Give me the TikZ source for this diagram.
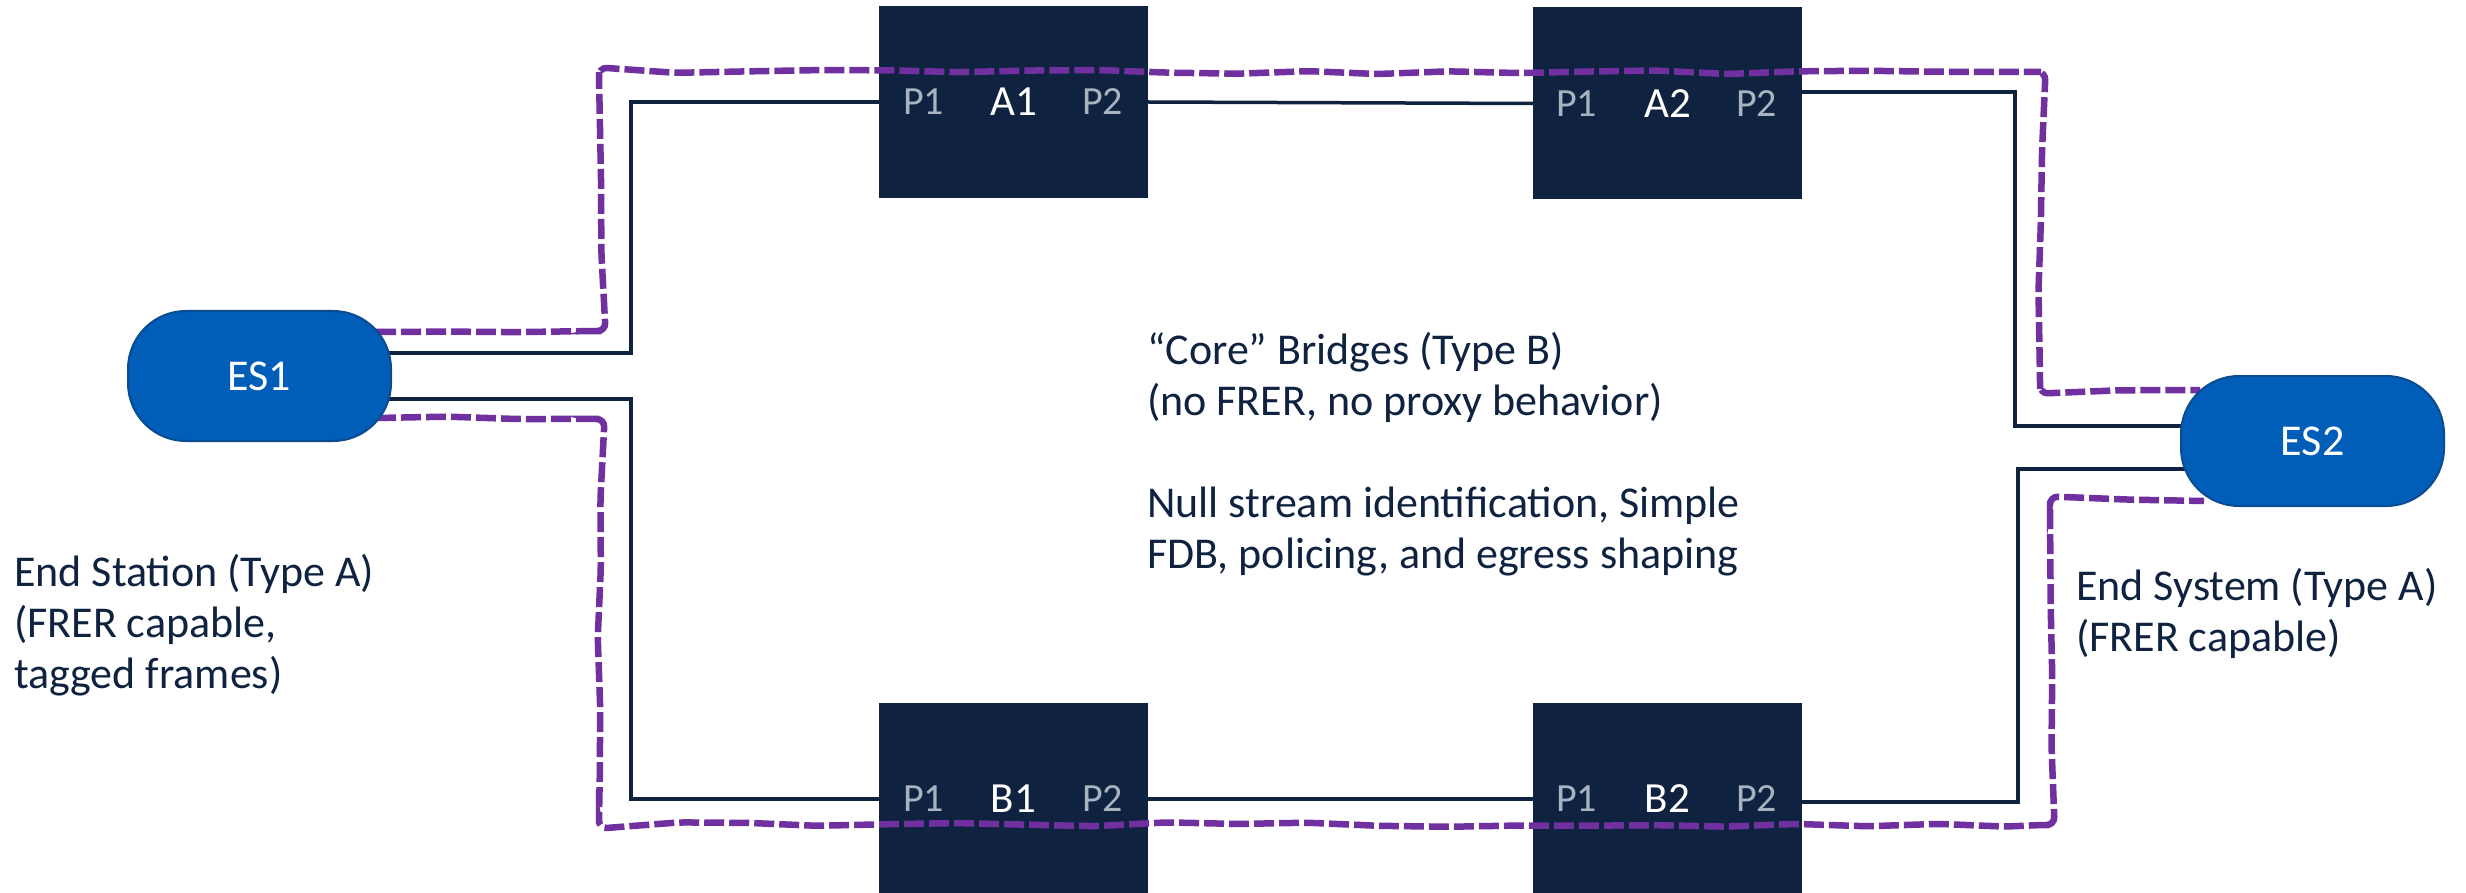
\documentclass[tikz,border=0pt]{standalone}
\usepackage{fontspec}
\setmainfont{Carlito}
\usetikzlibrary{decorations.pathmorphing,calc}
\definecolor{navy}{HTML}{0F2240}
\definecolor{esblue}{HTML}{005EB8}
\definecolor{esedge}{HTML}{0A4B91}
\definecolor{portgrey}{HTML}{A8B3C0}
\definecolor{purp}{HTML}{7030A0}
\pgfdeclarelayer{bg}
\pgfdeclarelayer{fg}
\pgfsetlayers{bg,main,fg}
\tikzset{
  bridge/.style={rectangle, fill=navy, draw=none, minimum width=269pt, minimum height=192pt, inner sep=0pt},
  endsys/.style={rectangle, rounded corners=58pt, fill=esblue, draw=esedge, line width=2pt,
    minimum width=263pt, minimum height=130pt, inner sep=0pt, text=white, font=\fontsize{44}{51}\selectfont},
  blabel/.style={text=white, inner sep=0pt, font=\fontsize{43}{51}\selectfont},
  port/.style={text=portgrey, inner sep=0pt, font=\fontsize{40}{51}\selectfont},
  link/.style={draw=navy, line width=3.5pt},
  wavy/.style={draw=purp, line width=6.5pt, dash pattern=on 20pt off 5pt, decorate,
    decoration={random steps, segment length=70pt, amplitude=2.4pt}, rounded corners=8pt},
  note/.style={text=navy, inner sep=0pt, align=left, font=\fontsize{44}{51}\selectfont}
}
\begin{document}
\begin{tikzpicture}[x=1pt,y=-1pt]
\useasboundingbox (0,0) rectangle (2466,893);
\pgfmathsetseed{11}
% end systems (front layer)
\begin{pgfonlayer}{fg}
\node[endsys] (ES1) at (259.5,376) {ES1};
\node[endsys] (ES2) at (2312.5,441) {ES2};
\end{pgfonlayer}
% bridges
\node[bridge] (A1) at (1013.5,102) {};
\node[bridge] (A2) at (1667.5,103.5) {};
\node[bridge] (B1) at (1013.5,799) {};
\node[bridge] (B2) at (1667.5,799) {};
% bridge labels
\node[blabel] (A1n) at (A1.center) {A1};
\node[port] (A1p1) at ([xshift=-90pt]A1.center) {P1};
\node[port] (A1p2) at ([xshift=89pt]A1.center) {P2};
\node[blabel] (A2n) at (A2.center) {A2};
\node[port] (A2p1) at ([xshift=-91pt]A2.center) {P1};
\node[port] (A2p2) at ([xshift=89pt]A2.center) {P2};
\node[blabel] (B1n) at (B1.center) {B1};
\node[port] (B1p1) at ([xshift=-90pt]B1.center) {P1};
\node[port] (B1p2) at ([xshift=89pt]B1.center) {P2};
\node[blabel] (B2n) at (B2.center) {B2};
\node[port] (B2p1) at ([xshift=-91pt]B2.center) {P1};
\node[port] (B2p2) at ([xshift=89pt]B2.center) {P2};
% links
\begin{pgfonlayer}{bg}
\draw[link] ([xshift=-6pt,yshift=23pt]ES1.east) -- ++(245,0) |- (A1.west);
\draw[link] (A1.east) -- (A2.west);
\draw[link] ([yshift=11.5pt]A2.east) -- ++(213,0) |- ([xshift=6pt,yshift=15pt]ES2.west);
\draw[link] ([xshift=-6pt,yshift=-23pt]ES1.east) -- ++(245,0) |- (B1.west);
\draw[link] (B1.east) -- (B2.west);
\draw[link] ([yshift=-3pt]B2.east) -- ++(216,0) |- ([xshift=6pt,yshift=-28pt]ES2.west);
\end{pgfonlayer}
% redundant paths (purple)
\coordinate (u0) at (376,332);
\coordinate (u1) at (601,331);
\coordinate (u2) at (599,72);
\coordinate (u3) at (2041,72);
\coordinate (u4) at (2040,389);
\coordinate (u5) at (2200,390);
\draw[wavy] (u0) -- (u1) -- (u2) -- (u3) -- (u4) -- (u5);
\coordinate (l0) at (376,418);
\coordinate (l1) at (600,419);
\coordinate (l2) at (599,824);
\coordinate (l3) at (2050,825);
\coordinate (l4) at (2050,501);
\coordinate (l5) at (2204,501);
\draw[wavy] (l0) -- (l1) -- (l2) -- (l3) -- (l4) -- (l5);
% notes (anchored at the baseline of the last line)
\node[note, anchor=base west] (noteA) at (14,688) {End Station (Type A)\\(FRER capable,\\tagged frames)};
\node[note, anchor=base west] (noteB) at (1147,568) {“Core” Bridges (Type B)\\(no FRER, no proxy behavior)\\[51pt]Null stream identification, Simple\\FDB, policing, and egress shaping};
\node[note, anchor=base west] (noteC) at (2076,651) {End System (Type A)\\(FRER capable)};
\end{tikzpicture}
\end{document}
